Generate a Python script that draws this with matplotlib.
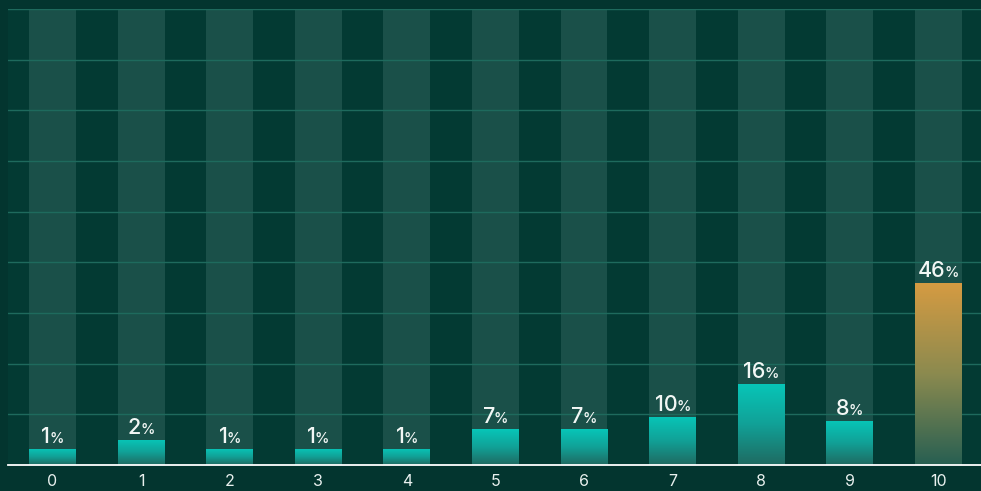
import numpy as np
import matplotlib
matplotlib.use("Agg")
import matplotlib.pyplot as plt
from matplotlib.colors import LinearSegmentedColormap

categories = ["0", "1", "2", "3", "4", "5", "6", "7", "8", "9", "10"]
bar_heights = [3.2, 5.0, 3.2, 3.2, 3.2, 7.1, 7.1, 9.5, 16.0, 8.7, 35.9]
pct_labels = ["1", "2", "1", "1", "1", "7", "7", "10", "16", "8", "46"]
highlight = [False] * 10 + [True]

BG = "#033a33"
TRACK = "#1a5049"
GRID = "#1e6a5d"
FONT = ["Inter", "DejaVu Sans"]

fig = plt.figure(figsize=(9.81, 4.91), dpi=100, facecolor="#03352f")
ax = fig.add_axes([8.2 / 981, 26 / 491, 974.4 / 981, 456 / 491])
ax.set_facecolor(BG)

x = np.arange(len(categories))
w = 0.53
ymax = 90

ax.set_xlim(-0.5, len(categories) - 0.5)
ax.set_ylim(0, ymax)

# tracks
ax.bar(x, [ymax] * len(x), width=w, color=TRACK, zorder=1)
# grid
for gy in range(10, ymax + 1, 10):
    ax.axhline(gy, color=GRID, lw=1.0, zorder=2)

teal = LinearSegmentedColormap.from_list("teal", ["#1f6a61", "#11a197", "#07c6b8"])
orange = LinearSegmentedColormap.from_list("org", ["#275f52", "#8b8a4f", "#d59b42"])
grad = np.linspace(0, 1, 256).reshape(-1, 1)

bars = ax.bar(x, bar_heights, width=w, color="none", zorder=3)
for b, hi in zip(bars, highlight):
    x0, y0 = b.get_x(), b.get_y()
    im = ax.imshow(grad, cmap=orange if hi else teal, origin="lower",
                   extent=[x0, x0 + b.get_width(), y0, y0 + b.get_height()],
                   aspect="auto", zorder=3, interpolation="bilinear")
    im.set_clip_path(b)

ax.set_xlim(-0.5, len(categories) - 0.5)
ax.set_ylim(0, ymax)

# labels: big number + small percent sign, centred together
TXT = "#f2f7f5"
BASE = 6
fig.canvas.draw()
r = fig.canvas.get_renderer()
for xi, h, lab in zip(x, bar_heights, pct_labels):
    t1 = ax.annotate(lab, xy=(xi, h), xytext=(0, BASE), textcoords="offset pixels",
                     ha="left", va="baseline", color=TXT, fontsize=15.5,
                     family=FONT, fontweight="medium", zorder=5)
    t2 = ax.annotate("%", xy=(xi, h), xytext=(0, BASE), textcoords="offset pixels",
                     ha="left", va="baseline", color=TXT, fontsize=10.5,
                     family=FONT, fontweight="medium", zorder=5)
    w1 = t1.get_window_extent(r).width
    w2 = t2.get_window_extent(r).width
    gap = -1.0
    total = w1 + gap + w2
    t1.set_position((-total / 2, BASE))
    t2.set_position((-total / 2 + w1 + gap, BASE))

for s in ["left", "right", "top"]:
    ax.spines[s].set_visible(False)
ax.spines["bottom"].set_color("white")
ax.spines["bottom"].set_linewidth(1.3)
ax.spines["bottom"].set_zorder(6)
ax.set_yticks([])
ax.set_xticks(x)
ax.set_xticklabels(categories, color="#e8f0ee", fontsize=11.5, family=FONT)
ax.tick_params(axis="x", length=0, pad=6.5)

fig.savefig("out.png", dpi=100, facecolor=fig.get_facecolor())
